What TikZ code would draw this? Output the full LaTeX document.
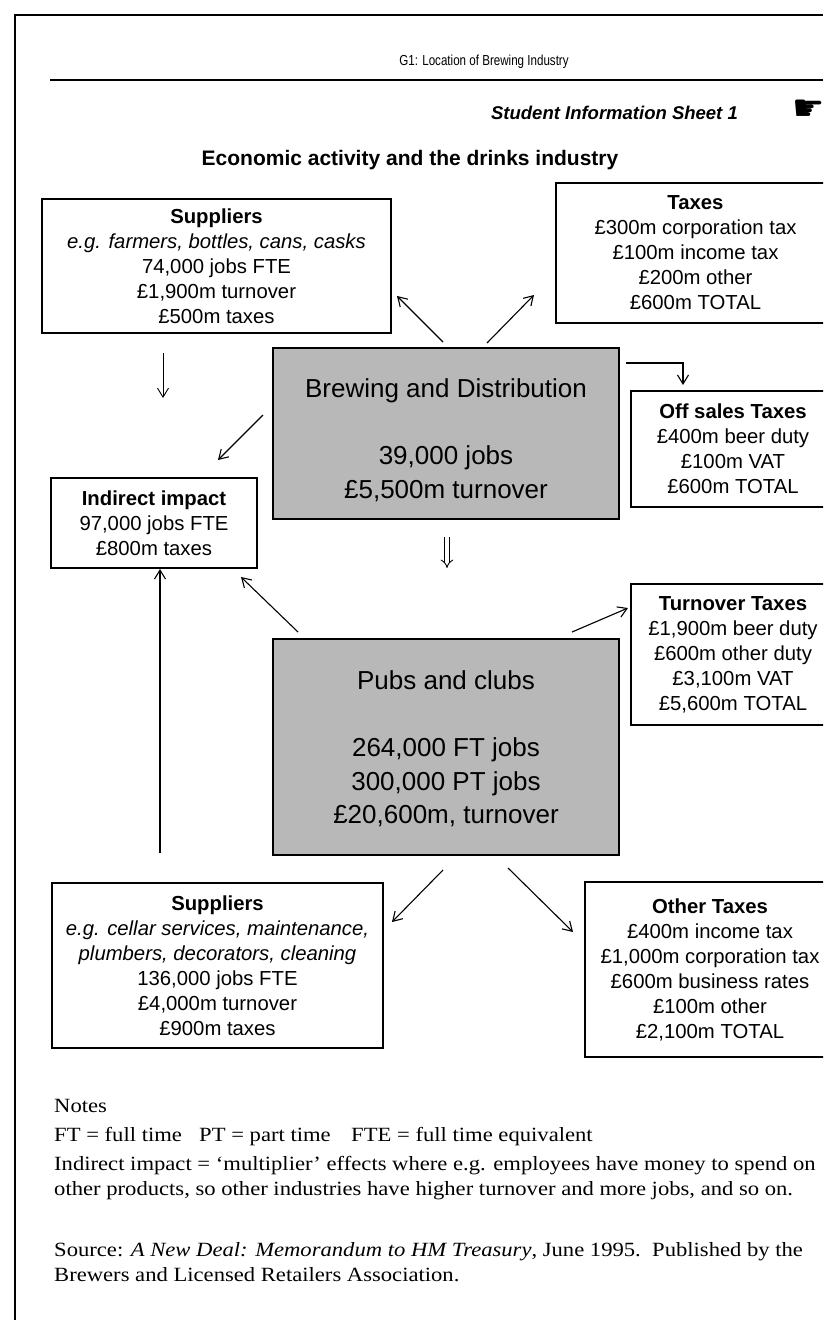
\documentclass[tikz,border=0pt]{standalone}
\usepackage{fontspec}
\setsansfont{Liberation Sans}
\newfontfamily\narrowsans[FakeStretch=0.8]{Liberation Sans}
\newfontfamily\noteserif[FakeStretch=1.12]{Liberation Serif}
\newfontfamily\handfont{DejaVu Sans}
\usetikzlibrary{arrows.meta}
\begin{document}
\begin{tikzpicture}[x=1pt,y=-1pt,
  bx/.style={draw,line width=1.7pt,inner sep=0pt,align=center,font=\sffamily\fontsize{20.3}{25}\selectfont},
  gbx/.style={draw,line width=1.7pt,fill=black!28,inner sep=0pt},
  gtxt/.style={inner sep=0pt,align=center,font=\sffamily\fontsize{26}{33.5}\selectfont},
  arr/.style={line width=1.1pt,-{Straight Barb[length=9pt,width=11pt]}},
  note/.style={anchor=base west,inner sep=0pt,font=\noteserif\fontsize{20.2}{25}\selectfont},
]
\clip (0,0) rectangle (823,1320);
\fill[white] (0,0) rectangle (823,1320);
% page frame and header rule
\draw[line width=2pt] (15,1320) -- (15,15) -- (823,15);
\draw[line width=2pt] (50,80) -- (823,80);
\node[inner sep=0pt,font=\narrowsans\fontsize{14.5}{16}\selectfont] (hdr) at (484,62) {G1: Location of Brewing Industry};
\node[inner sep=0pt,anchor=east,font=\sffamily\bfseries\itshape\fontsize{18.5}{22}\selectfont] (sis) at (738,113) {Student Information Sheet 1};
\node[inner sep=0pt,font=\handfont\fontsize{36}{38}\selectfont] (hand) at (809,110) {☛};
\node[inner sep=0pt,font=\sffamily\bfseries\fontsize{21}{25}\selectfont] (title) at (410,160) {Economic activity and the drinks industry};

% boxes
\node[bx,minimum width=349pt,minimum height=134pt] (sup1) at (216.5,266) {\textbf{Suppliers}\\\textit{e.g. farmers, bottles, cans, casks}\\74,000 jobs FTE\\£1,900m turnover\\£500m taxes};
\node[bx,minimum width=279pt,minimum height=140pt] (taxes) at (695.5,253) {\textbf{Taxes}\\£300m corporation tax\\£100m income tax\\£200m other\\£600m TOTAL};
\node[gbx,minimum width=346pt,minimum height=171pt] (brew) at (446,433.5) {};
\node[gtxt] (brewtext) at (446,440) {Brewing and Distribution\\[33.5pt]39,000 jobs\\£5,500m turnover};
\node[bx,minimum width=204pt,minimum height=116pt] (offs) at (733,449) {\textbf{Off sales Taxes}\\£400m beer duty\\£100m VAT\\£600m TOTAL};
\node[bx,minimum width=206pt,minimum height=90pt] (indir) at (154,523) {\textbf{Indirect impact}\\97,000 jobs FTE\\£800m taxes};
\node[gbx,minimum width=346pt,minimum height=216pt] (pubs) at (446,747) {};
\node[gtxt] (pubstext) at (446,749) {Pubs and clubs\\[33.5pt]264,000 FT jobs\\300,000 PT jobs\\£20,600m, turnover};
\node[bx,minimum width=204pt,minimum height=141pt] (turn) at (733,654.5) {\textbf{Turnover Taxes}\\£1,900m beer duty\\£600m other duty\\£3,100m VAT\\£5,600m TOTAL};
\node[bx,minimum width=331pt,minimum height=165pt] (sup2) at (217.5,965.5) {\textbf{Suppliers}\\\textit{e.g. cellar services, maintenance,}\\\textit{plumbers, decorators, cleaning}\\136,000 jobs FTE\\£4,000m turnover\\£900m taxes};
\node[bx,minimum width=250pt,minimum height=175pt] (other) at (710,969.5) {\textbf{Other Taxes}\\£400m income tax\\£1,000m corporation tax\\£600m business rates\\£100m other\\£2,100m TOTAL};

% connector end points
\coordinate (a1s) at (443,342); \coordinate (a1e) at (397,296);
\coordinate (a2s) at (487,343); \coordinate (a2e) at (534,295);
\coordinate (a3s) at (163,353); \coordinate (a3e) at (163,398);
\coordinate (a4s) at (263,415); \coordinate (a4e) at (218,460);
\coordinate (a5s) at (626,363); \coordinate (a5c) at (683,363); \coordinate (a5e) at (683,385);
\coordinate (a6s) at (447,537); \coordinate (a6e) at (447,568);
\coordinate (a7s) at (298,632); \coordinate (a7e) at (241,577);
\coordinate (a8s) at (572,632); \coordinate (a8e) at (628,608);
\coordinate (a9s) at (160,853); \coordinate (a9e) at (160,569);
\coordinate (a10s) at (443,870); \coordinate (a10e) at (392,922);
\coordinate (a11s) at (508,868); \coordinate (a11e) at (573,932);

\draw[arr] (a1s) -- (a1e);
\draw[arr] (a2s) -- (a2e);
\draw[arr,line width=0.9pt] (a3s) -- (a3e);
\draw[arr] (a4s) -- (a4e);
\draw[arr] (a5s) -- (a5c) -- (a5e);
\draw[line width=0.9pt,double,double distance=3.5pt,-{Implies}] (a6s) -- (a6e);
\draw[arr] (a7s) -- (a7e);
\draw[arr] (a8s) -- (a8e);
\draw[arr] (a9s) -- (a9e);
\draw[arr] (a10s) -- (a10e);
\draw[arr] (a11s) -- (a11e);

% notes
\node[note] (n1) at (54,1112) {Notes};
\node[note] (n2) at (54,1141) {\makebox[145pt][l]{FT = full time}\makebox[152pt][l]{PT = part time}FTE = full time equivalent};
\node[note] (n3) at (54,1170) {Indirect impact = ‘multiplier’ effects where e.g. employees have money to spend on};
\node[note] (n4) at (54,1195) {other products, so other industries have higher turnover and more jobs, and so on.};
\node[note] (n5) at (54,1256) {Source: \textit{A New Deal: Memorandum to HM Treasury}, June 1995.\ \ Published by the};
\node[note] (n6) at (54,1281) {Brewers and Licensed Retailers Association.};
\end{tikzpicture}
\end{document}
